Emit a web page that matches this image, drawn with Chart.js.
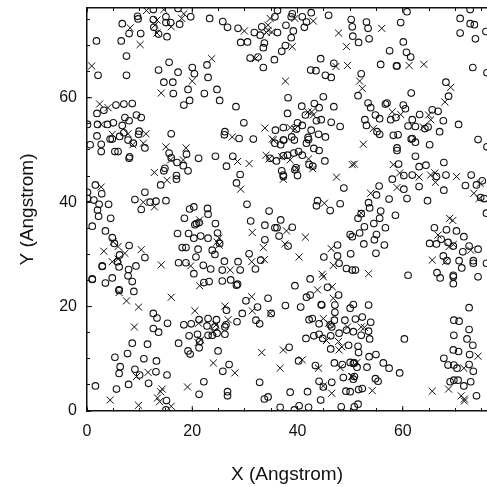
<!DOCTYPE html>
<html>
<head>
<meta charset="utf-8">
<script src="https://cdn.jsdelivr.net/npm/chart.js@4"></script>
<style>
html, body { margin: 0; padding: 0; background: #fff; }
canvas { display: block; }
</style>
</head>
<body>
<canvas id="scatterChart" width="487" height="487"></canvas>
<script>
// values, [x, y] in Angstrom
const circles = [
[9.6,75.6],[9.7,75.1],[12.6,75],[15,75.5],[15.9,74.4],[15,74.4],[17.6,74.1],[19.7,75.5],[23.3,75.2],[6.7,74.2],[8,72.3],[10.2,72.3],[12.7,73.5],[13.6,72.2],[15.2,71.7],[1.8,70.9],[6.5,70.9],[7.5,68],[2.1,64.3],[7.5,64.3],[13.6,65.3],[15.6,66.8],[17.3,64.9],[20,65.8],[20.4,64.6],[23,63.9],[22.8,66.3],[14.6,63],[16.3,63],[16.4,60.8],[19.2,61.6],[22.3,60.8],[24.7,61.6],[25.2,59.5],[19.5,59.5],[18.4,58.6],[5.5,58.6],[7,58.8],[8.6,58.9],[1.9,57],[3.2,57.6],[9.4,56.7],[10.3,56.2],[7.2,56.2],[8,55.6],[5,55.2],[3.9,54.9],[2,54.9],[0.1,54.9],[6.7,54.7],[7,53.3],[9.9,53.6],[9.8,53],[16,53.1],[1.9,52.7],[6.2,52.6],[12.6,76.9],[17.3,77.1],
[36.2,76.7],[39,76.1],[42.6,76.3],[45.9,75.8],[35.7,75.5],[38.8,75.5],[40.9,75.5],[50.2,75],[25.8,74.6],[26.7,73.5],[28.7,73.3],[41.7,74.5],[41.3,73.5],[37.8,73.9],[50.4,73.6],[33.2,73.6],[31.8,72.5],[32.9,72],[36.2,72.5],[39.2,72.8],[38.8,71.5],[50.5,71.8],[29.2,70.6],[30.5,70.7],[33.7,70.5],[33.5,69.6],[37.7,70],[37,68.9],[31,67.6],[32.5,67.8],[35.6,67.3],[33.5,65.8],[44.4,67.5],[46.9,66.6],[42.5,65.3],[43.5,65.2],[45.3,64.3],[46.4,63.9],[28.3,58.3],[38.2,60],[44.9,60.2],[43.2,58.9],[40.8,58.4],[44.1,58.1],[46.9,58.3],[38.1,57],[41.5,56.7],[44.5,55.8],[43.6,55.6],[46.4,55.3],[48.1,54.5],[29.8,55.2],[40,55.2],[40.9,54.7],[35.8,53.8],[37.3,54.3],[39.8,54],[42.6,53.8],[26.2,53.5],[26.1,52.9],[28.9,52.2],[31.6,52.1],[38.9,52.5],[44,53],[45.3,52.5],[42,52.4],[37.3,51.9],
[60.8,76.5],[72.8,76.9],[53.1,74.5],[53.4,73.3],[59.6,74.4],[70.9,75.2],[72.8,74.2],[73.6,74],[70.9,72.4],[75.8,72.7],[73.8,71.3],[51.6,70.6],[53.6,71.3],[60.1,70.7],[57.5,69],[60.7,68.7],[61.5,67.8],[55.8,66.4],[58.8,66.1],[58.9,66.1],[73.3,65.8],[52.1,64.6],[76,64.8],[68.2,63],[61.6,60.9],[51.5,60.4],[68.7,60.3],[53.4,59],[53.9,58.1],[56.7,58.8],[57,59],[60.1,58.6],[60.5,57.9],[65.6,57.7],[66.7,57.4],[54.8,56.7],[55.6,56],[58.7,56.2],[57.7,55.8],[61.8,55.8],[63.2,56.8],[52.8,55.8],[53.1,54.7],[61,54.6],[62.4,54.5],[64.8,54.4],[67.7,55.6],[70.6,54.9],[67,53.5],[55.1,53.5],[55.6,53],[58.2,52.8],[59.1,52.9],[61.8,52.2],[64.2,54.1],
[0.6,51],[2.7,51.1],[2.7,49.7],[4.4,52.1],[4.8,52.1],[5.3,49.7],[5.9,49.7],[7.8,51.9],[8.8,51.3],[11,50.4],[8.1,48.7],[8,48.4],[15.6,49.4],[16,48.5],[17.1,47.6],[18.3,47],[19.2,46],[18.9,49.2],[21.2,48.4],[24.4,48.8],[14.8,46.5],[14.6,46],[17,45.1],[17,44.4],[14,43.3],[1.6,43.3],[2.8,41.6],[0.1,41.9],[0.1,40.7],[1.3,40.4],[2.3,39.6],[4.1,39.6],[2,38.5],[2.2,37.3],[4.5,36.9],[1,35.4],[11,41.9],[9.1,40.5],[12,40],[13.1,40.2],[10.3,38.6],[15,40.3],[3.5,34.5],[4.8,33.2],[5.2,32.1],[8,31.7],[6.2,29.9],[5.8,28.6],[6.1,27.6],[2.9,27.8],[2.9,27.7],[11,29.4],[9.3,27.8],[7.9,27.1],[17.4,28.4],[18.8,28.4],[22.1,27.9],[23.5,27.2],[20.3,26.3],[17.2,34],[19.3,34],[20.3,33.1],[21.6,33.5],[23,33.1],[24.8,34.1],[18.5,36.9],[19.5,38.7],[20.3,39.1],[22.9,38.8],[23,37.7],[20.8,35.9],[21.3,36.1],[20.5,35.7],[24.4,35.9],[18.1,31.3],[18.8,31.3],[21.1,31],[20.7,29.5],[23.8,30.8],[24.3,30],[25.2,32.1],
[27.7,48.8],[26.5,46.9],[29.1,45.3],[28.4,43.7],[30.4,39.6],[35.7,51.3],[36.8,51],[37.4,51.9],[39.4,51.9],[41.7,51.3],[42.1,52],[43.1,50.3],[44.1,49.9],[34.8,48.4],[36,47.9],[37.3,48.9],[38.1,49],[39.3,49.4],[40.2,49.7],[40.9,49],[42.2,47.2],[42.9,46.9],[45.2,47.9],[37,46],[37.3,45.2],[37.3,44.9],[39.7,46.6],[39.5,46.2],[40,45.1],[48.8,42.7],[43.8,40.3],[43.6,39.3],[46.2,38.4],[48.1,39.7],[34.6,38.3],[36.8,36.6],[31.1,36.4],[33.8,35.6],[35.7,35.1],[36.1,35.1],[39,35.2],[36.5,33.5],[33.8,32.8],[38.2,31.6],[30.8,30.1],[33,28.9],[26.1,28.7],[28.7,28.6],[32,27.2],[25.7,27],[29.1,27],[45,29.5],[47.6,31.8],[47.6,29.7],[50.1,30.1],[50,33.8],[50.4,33.4],[47.9,28.3],[49.3,27.3],[50.4,27],
[61.6,52.1],[62.4,51.5],[74.3,52],[65.1,51],[58.9,50.4],[58.9,49.9],[62.4,48.8],[59.2,47.3],[64.4,47.1],[63.1,46.8],[67.8,47.6],[60.2,45.1],[61.8,45.2],[58,44.4],[66.4,44.9],[68.2,45.2],[73,45.2],[63.1,43],[60.2,42.5],[67.8,42.3],[71.9,43.2],[74,43.3],[75.1,44.1],[55.5,43.1],[55,41.4],[57.4,40.6],[60.8,40.7],[64.7,40.3],[74.8,40.9],[75.5,40.7],[53.5,39.9],[53.7,38.9],[55.8,38.3],[55.6,36.9],[52.1,37.8],[51.5,36.9],[58.6,37.5],[54.5,35.9],[52.7,35.3],[56.7,35.1],[51.8,34.1],[55,33.8],[54.6,32.8],[56.5,31.8],[52.6,32],[54.9,30.2],[66,35.1],[68.3,34.7],[70.2,34.5],[71.6,33.4],[67.3,32.9],[65.1,32.1],[66.4,32],[68.6,32.3],[69.6,31.6],[72.6,31.6],[71.4,30.5],[74.3,31],[67.7,29.7],[68.4,28.8],[70.7,28.8],[73.4,28.8],[73.4,28.3],[71.2,27.4],[75.9,28.3],[75.9,37.9],[66.5,26.5],[69.6,26],[61,26],[51,27],[76,50.6],
[1,25.2],[1,25.3],[3.5,24.5],[4.8,25.5],[7.8,25.9],[8.6,24.8],[8.9,22.9],[6.1,23.2],[6.1,23.1],[22.2,24.6],[23.2,24.8],[12.6,18.7],[13.3,17.8],[12.6,15.8],[13.6,15.1],[15.3,16.8],[18.4,16.5],[19.8,16.7],[21.3,17.5],[23,17.7],[24.6,17.5],[22.8,16.3],[24.3,16.1],[19.4,14.4],[21,14.7],[23,14.5],[23.8,14.5],[24.7,14.9],[21.4,13.3],[21.3,12.1],[17.4,13],[8.6,13],[11.5,12.8],[19.2,11.5],[19.6,10.9],[24.9,11.5],[5.3,10.3],[7.7,11],[10.8,10],[13.2,9.6],[6.3,8.5],[6.1,7.2],[9.1,8],[10,6.9],[13.1,7.5],[15.2,6.9],[7.9,5.1],[11.7,5.3],[1.6,4.8],[5.6,4.2],[22.2,5.6],[21.3,3.2],[15.1,2],[15,0.2],
[25.7,24.9],[27.3,25.1],[28.4,24.1],[28.6,24.3],[39.5,24],[42.4,25.3],[45.7,23.7],[41.7,21.8],[42.4,22.2],[47.8,22.2],[30.2,21.1],[34.4,21.6],[32.4,19.9],[37.7,20.2],[40.6,19.9],[44.5,20.4],[44.6,20.3],[50,19.7],[50.6,20.4],[47.1,20.3],[47.1,18.9],[26.5,19.3],[29.5,18.7],[35,18.7],[28.5,17.1],[32.1,17.4],[32.8,16.7],[42.2,17.5],[42.8,17.7],[44.1,16.7],[47,17.4],[49,17.4],[26.4,16.5],[26.2,16.1],[46.2,16.5],[46.5,16.1],[26.2,14.7],[47.9,14.9],[49.3,15.5],[50.6,15.2],[41.6,13.9],[43.1,14.4],[44.1,14.7],[44.8,13.9],[46.3,14.4],[49.7,12.6],[46.3,11.9],[38.4,12.2],[27,8.9],[25.8,7.6],[40.2,9.6],[43.4,8.7],[47,9.2],[48.5,8.9],[50,9.3],[50.6,9.1],[48.7,6.4],[32.8,5.5],[44.1,5.7],[46.5,5.5],[50.6,6.1],[44.9,4.6],[38.6,3.6],[41.9,3.7],[49.2,3.8],[50,3.7],[26.7,3.7],[26.7,2.9],[33.7,2.3],[34.4,2.7],[44.4,2.1],[36.7,0.7],[40.3,1],[42.1,0.7],[39.4,0.2],[48.3,0.8],[50.8,0.8],
[67.1,25.5],[69.6,25.7],[69.6,24.4],[74.3,25.7],[53.5,20.3],[72.6,19.8],[51,17.6],[52.3,18],[53.9,17],[69.7,17.4],[70.7,17.2],[72.6,15.6],[53.5,15.3],[52.1,14.5],[53.7,13.8],[60.3,13.8],[69.7,14.5],[72.2,13.8],[73.3,12.6],[51.5,12.4],[51.6,11.2],[69.6,11.7],[70.6,11.4],[54.9,10.8],[53.6,10.4],[72.7,10.8],[67.8,10.1],[50.8,9.2],[51.3,8.4],[53.2,8.4],[56.3,9.2],[57.4,8.2],[68.6,8.8],[69.7,8.8],[70.3,8.2],[72.6,8.9],[73.4,7.6],[59.4,7.3],[50.8,6.6],[54.8,6.2],[55.3,5.7],[69,5.6],[69.7,5.9],[70.5,5.9],[72.9,5.6],[71.6,4.8],[51.6,4.1],[52.3,4.3],[51.5,1.3],[74,2.9]
];
const crosses = [
[0.9,66.1],[8.2,73.4],[10.1,70.2],[11.3,76.7],[14.6,76.9],[18.4,76.1],[18,75.2],[13.3,74.9],[12.9,73.9],[13.3,72.4],[16,73.6],[23.7,67.5],[20,63.2],[14.1,60.9],[2.4,58.8],[4,58.1],[2.7,54.9],[7.8,53.1],[11.2,53.1],[4.8,53],
[29.9,72.8],[34.4,73.9],[34.4,72.9],[34.1,72.5],[35.1,72.6],[39.5,75.2],[43,74.7],[47.8,72.4],[49.3,69.8],[39,69.8],[32,67.5],[47.3,66],[49.5,66.2],[37.7,63.2],[42,57.3],[42.7,57.3],[43,56.7],[33.8,54.2],[38.6,54.3],[39.5,54],[27.6,52.5],[35.2,52.1],[34.8,75.2],
[56,73.3],[61.2,66.2],[64,66.4],[51.8,63.2],[52.3,61.8],[69.1,62],[68,59.2],[58,57.3],[59.6,56.8],[64.9,56.7],[65.3,55.8],[54.4,54.1],[63.9,54.4],
[8.7,51],[10.7,51.3],[15,50.6],[18.8,50.4],[15.9,48.1],[18.3,48.1],[12.8,45.7],[15.2,44.2],[2.7,42.9],[10.7,40],[12.8,39.1],[21.4,36.6],[24.7,32.4],[3.2,30.6],[5,32.4],[5.9,31.5],[7.2,30.2],[10.3,30.9],[4.8,28.6],[5.9,29.1],[14.1,28],[19.7,27.8],
[35.4,51.9],[34,49],[34.6,48.3],[37,48.7],[38.6,48.1],[42.1,48.3],[28.6,47.8],[30.8,47.4],[42.9,46.4],[39.8,46.5],[37.3,44.4],[29.2,42.5],[47.4,44.8],[45.1,39.8],[50.4,47.2],[37.9,34.5],[31.4,34.2],[41.5,33.3],[37.6,32],[33.5,31.3],[33.7,29],[40.3,29.5],[25.1,33.1],[25.1,31.8],[31.3,28.6],[27.2,27],[46.4,31.1],[46.8,27.9],[44.7,26.2],
[52.5,51.1],[50.8,47.3],[58.2,47.2],[59.4,45.6],[63.1,44.8],[65.3,45.2],[66.1,45.6],[66.2,43.8],[70.2,44.9],[74.7,43.6],[58.9,42.8],[53.9,41.7],[73.5,41.7],[74.5,40.7],[52.1,37.9],[68.9,36.9],[69.5,36.5],[66.7,33.7],[68.8,31.5],[69.6,31.9],[72.9,30.8],[65.6,28.9],[68.1,28.6],[53.5,26.3],
[21.4,24],[6.1,22.7],[7.5,21.1],[9.8,19.9],[16,21.8],[20.5,19.2],[21.2,16.8],[9,16.1],[24.5,16.5],[24,15.2],[21.6,13.6],[21.1,13.1],[24,9.2],[11.6,7.4],[9.4,6.6],[19.1,4.6],[14.3,4.2],[14,3.7],[13.4,2.5],[13.8,1.8],[4.4,2.1],[9.8,1.1],[16,0.9],
[26.2,20.1],[26.8,17.5],[31.3,21.9],[31.4,19.2],[34.8,18.7],[43.8,23.2],[46.6,23.8],[44.9,25.7],[46.8,21.6],[44.9,17.7],[45.9,16.8],[49.5,16.1],[45.5,13.5],[47.8,13.3],[48.4,12.3],[47.9,11.7],[33.2,11.2],[37.3,11.7],[40.9,9.8],[36.7,8.2],[28.1,7.3],[44,8.2],[48.1,8.3],[50.4,6.6],[44.9,4.8],[46.5,3.4],
[52.1,16.1],[52.7,16],[51.3,9.3],[50.3,6.6],[74.3,10.5],[71.6,8.2],[54.2,3.9],[65.6,3.8],[68.7,4.2],[71.1,2.9],[71.7,1.9],[71.7,2.3]
];
const xMax = 76;
const yMax = 77.2;
const minorStep = 5;
const labelStep = 20;
const xTitle = 'X (Angstrom)';
const yTitle = 'Y (Angstrom)';

const ink = '#111';
const tickFont = { family: '"Liberation Sans", Arial, sans-serif', size: 16 };
const titleFont = { family: '"Liberation Sans", Arial, sans-serif', size: 19 };

function toPoints(list) {
    return list.map(p => ({ x: p[0], y: p[1] }));
}

function labelEvery(value) {
    return value % labelStep === 0 ? String(value) : '';
}

// grid lines off, ticks point into the plot (negative length)
function axisGrid() {
    return { drawOnChartArea: false, drawTicks: true, tickLength: -3, tickColor: ink, tickWidth: 1 };
}

// fixed box for an axis, and no extra room for overhanging labels
function fixBox(scale, size) {
    if (scale.isHorizontal()) {
        scale.height = size;
    } else {
        scale.width = size;
    }
    scale.paddingLeft = 0;
    scale.paddingRight = 0;
    scale.paddingTop = 0;
    scale.paddingBottom = 0;
}

// the labelled ticks are longer than the minor ones
const majorTicks = {
    id: 'majorTicks',
    afterDraw(chart) {
        const { ctx, chartArea, scales } = chart;
        ctx.save();
        ctx.strokeStyle = ink;
        ctx.lineWidth = 1;
        ctx.beginPath();
        for (let v = 0; v <= xMax; v += labelStep) {
            const px = scales.x.getPixelForValue(v);
            ctx.moveTo(px, chartArea.bottom);
            ctx.lineTo(px, chartArea.bottom - 5);
            ctx.moveTo(px, chartArea.top);
            ctx.lineTo(px, chartArea.top + 5);
        }
        for (let v = 0; v <= yMax; v += labelStep) {
            const py = scales.y.getPixelForValue(v);
            ctx.moveTo(chartArea.left, py);
            ctx.lineTo(chartArea.left + 5, py);
        }
        ctx.stroke();
        ctx.restore();
    }
};

new Chart(document.getElementById('scatterChart'), {
    type: 'scatter',
    data: {
        datasets: [
            {
                label: 'circles',
                data: toPoints(circles),
                pointStyle: 'circle',
                pointRadius: 3.3,
                pointBorderWidth: 1.1,
                pointBorderColor: ink,
                pointBackgroundColor: 'transparent'
            },
            {
                label: 'crosses',
                data: toPoints(crosses),
                pointStyle: 'crossRot',
                pointRadius: 5,
                pointBorderWidth: 1,
                pointBorderColor: ink,
                pointBackgroundColor: 'transparent'
            }
        ]
    },
    options: {
        responsive: false,
        animation: false,
        layout: { padding: 0, autoPadding: false },
        plugins: {
            legend: { display: false },
            title: { display: false },
            tooltip: { enabled: false }
        },
        scales: {
            x: {
                type: 'linear',
                position: 'bottom',
                min: 0,
                max: xMax,
                grid: axisGrid(),
                border: { color: ink, width: 1.5 },
                ticks: {
                    stepSize: minorStep,
                    includeBounds: false,
                    autoSkip: false,
                    maxRotation: 0,
                    padding: 14,
                    color: ink,
                    font: tickFont,
                    callback: labelEvery
                },
                title: { display: true, text: xTitle, color: ink, font: titleFont, padding: { top: 0, bottom: 1 } },
                afterFit(scale) { fixBox(scale, 76); }
            },
            xTop: {
                type: 'linear',
                axis: 'x',
                position: 'top',
                min: 0,
                max: xMax,
                grid: axisGrid(),
                border: { color: ink, width: 1.5 },
                ticks: { stepSize: minorStep, includeBounds: false, autoSkip: false, display: false },
                afterFit(scale) { fixBox(scale, 8); }
            },
            y: {
                type: 'linear',
                position: 'left',
                min: 0,
                max: yMax,
                grid: axisGrid(),
                border: { color: ink, width: 1.5 },
                ticks: {
                    stepSize: minorStep,
                    includeBounds: false,
                    autoSkip: false,
                    padding: 13,
                    color: ink,
                    font: tickFont,
                    callback: labelEvery
                },
                title: { display: true, text: yTitle, color: ink, font: titleFont, padding: { top: 16, bottom: 0 } },
                afterFit(scale) { fixBox(scale, 87); }
            }
        }
    },
    plugins: [majorTicks]
});
</script>
</body>
</html>
